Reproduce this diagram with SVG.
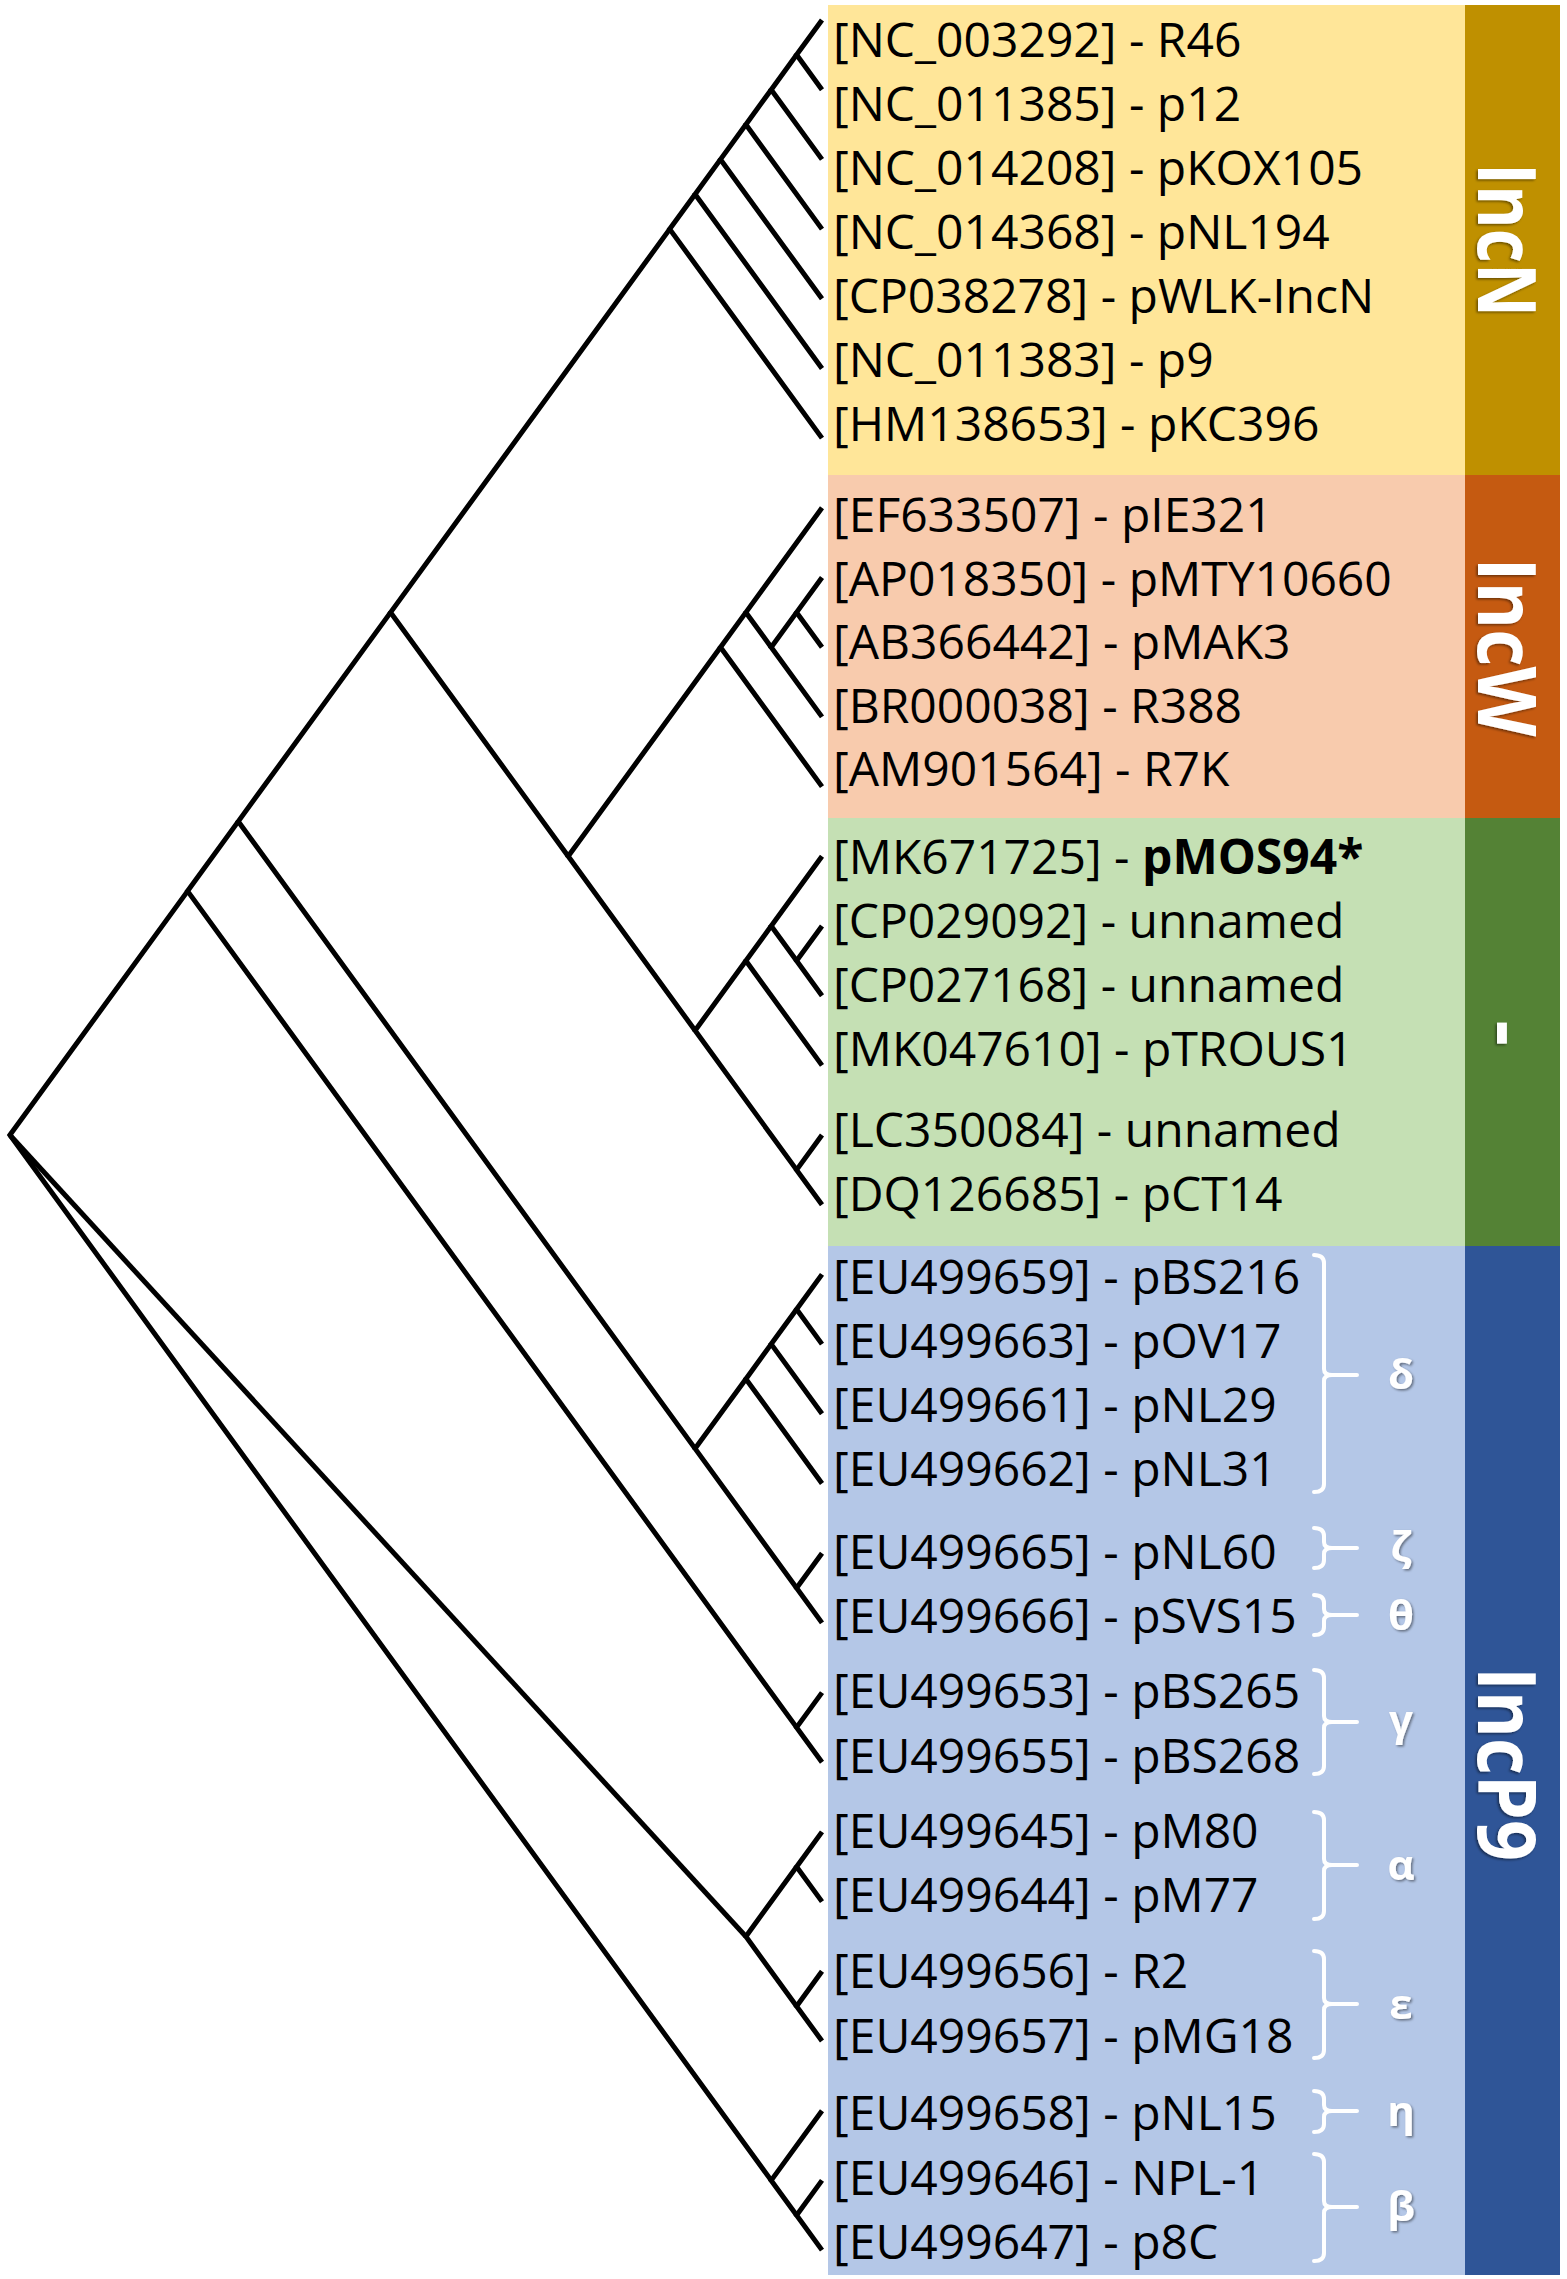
<svg xmlns="http://www.w3.org/2000/svg" width="1567" height="2279" viewBox="0 0 1567 2279">
<defs>
<style>
.lbl{font-family:"Open Sans","Noto Sans",sans-serif;font-size:48px;fill:#000}
.bar{font-family:"Open Sans","Noto Sans",sans-serif;font-size:80px;font-weight:bold;fill:#fff}
.grk{font-family:"Open Sans","Noto Sans",sans-serif;font-size:42px;font-weight:bold;fill:#fff;text-anchor:middle}
.edge{fill:none;stroke:#000;stroke-width:5;stroke-linejoin:miter;stroke-linecap:butt}
.brace{fill:none;stroke:#fff;stroke-width:4;stroke-linecap:round;stroke-linejoin:round}
</style>
<filter id="sh" x="-20%" y="-20%" width="140%" height="140%">
<feDropShadow dx="1.5" dy="1.5" stdDeviation="1.2" flood-color="#000" flood-opacity="0.45"/>
</filter>
</defs>
<rect width="1567" height="2279" fill="#fff"/>

<g id="panel-IncN">
<rect x="828" y="5" width="637" height="470" fill="#FFE699"/>
<rect x="1465" y="5" width="95" height="470" fill="#BF9000"/>
<text class="bar" transform="translate(1478,240) rotate(90)" text-anchor="middle" textLength="154" lengthAdjust="spacingAndGlyphs" filter="url(#sh)">IncN</text>
</g>
<g id="panel-IncW">
<rect x="828" y="475" width="637" height="343" fill="#F8CBAD"/>
<rect x="1465" y="475" width="95" height="343" fill="#C55A11"/>
<text class="bar" transform="translate(1478,647) rotate(90)" text-anchor="middle" textLength="179" lengthAdjust="spacingAndGlyphs" filter="url(#sh)">IncW</text>
</g>
<g id="panel-unassigned">
<rect x="828" y="818" width="637" height="428" fill="#C5E0B4"/>
<rect x="1465" y="818" width="95" height="428" fill="#548235"/>
<text class="bar" transform="translate(1480,1033) rotate(90)" text-anchor="middle" filter="url(#sh)">-</text>
</g>
<g id="panel-IncP9">
<rect x="828" y="1246" width="637" height="1029" fill="#B4C7E7"/>
<rect x="1465" y="1246" width="95" height="1029" fill="#2F5597"/>
<text class="bar" transform="translate(1478,1764) rotate(90)" text-anchor="middle" textLength="194" lengthAdjust="spacingAndGlyphs" filter="url(#sh)">IncP9</text>
</g>

<g id="connectors">
<path class="edge" d="M822,20 L796.6,54.8 L822,89.7"/>
<path class="edge" d="M796.6,54.8 L771.2,89.7 L822,159.4"/>
<path class="edge" d="M771.2,89.7 L745.9,124.5 L822,229.1"/>
<path class="edge" d="M745.9,124.5 L720.5,159.4 L822,298.8"/>
<path class="edge" d="M720.5,159.4 L695.1,194.2 L822,368.5"/>
<path class="edge" d="M695.1,194.2 L669.7,229.1 L822,438.1"/>
<path class="edge" d="M822,577.5 L796.6,612.4 L822,647.2"/>
<path class="edge" d="M796.6,612.4 L771.2,647.2 L822,716.9"/>
<path class="edge" d="M822,507.8 L745.9,612.4 L771.2,647.2"/>
<path class="edge" d="M745.9,612.4 L720.5,647.2 L822,786.6"/>
<path class="edge" d="M822,926 L796.6,960.8 L822,995.7"/>
<path class="edge" d="M822,856.3 L771.2,926 L796.6,960.8"/>
<path class="edge" d="M771.2,926 L745.9,960.8 L822,1065.4"/>
<path class="edge" d="M822,1135 L796.6,1169.9 L822,1204.7"/>
<path class="edge" d="M745.9,960.8 L695.1,1030.5 L796.6,1169.9"/>
<path class="edge" d="M720.5,647.2 L568.2,856.3 L695.1,1030.5"/>
<path class="edge" d="M669.7,229.1 L390.6,612.4 L568.2,856.3"/>
<path class="edge" d="M822,1274.4 L796.6,1309.3 L822,1344.1"/>
<path class="edge" d="M796.6,1309.3 L771.2,1344.1 L822,1413.8"/>
<path class="edge" d="M771.2,1344.1 L745.9,1379 L822,1483.5"/>
<path class="edge" d="M822,1553.2 L796.6,1588 L822,1622.9"/>
<path class="edge" d="M745.9,1379 L695.1,1448.6 L796.6,1588"/>
<path class="edge" d="M390.6,612.4 L238.3,821.4 L695.1,1448.6"/>
<path class="edge" d="M822,1692.6 L796.6,1727.4 L822,1762.3"/>
<path class="edge" d="M238.3,821.4 L187.6,891.1 L796.6,1727.4"/>
<path class="edge" d="M822,1831.9 L796.6,1866.8 L822,1901.6"/>
<path class="edge" d="M822,1971.3 L796.6,2006.2 L822,2041"/>
<path class="edge" d="M796.6,1866.8 L745.9,1936.5 L796.6,2006.2"/>
<path class="edge" d="M822,2180.4 L796.6,2215.2 L822,2250.1"/>
<path class="edge" d="M822,2110.7 L771.2,2180.4 L796.6,2215.2"/>
<path class="edge" d="M187.6,891.1 L9.9,1135 L771.2,2180.4"/>
<path class="edge" d="M9.9,1135 L745.9,1936.5"/>
</g>

<g id="leaves">
<g id="leaf-NC_003292"><text class="lbl" x="833" y="57">[NC_003292] - R46</text></g>
<g id="leaf-NC_011385"><text class="lbl" x="833" y="121">[NC_011385] - p12</text></g>
<g id="leaf-NC_014208"><text class="lbl" x="833" y="185">[NC_014208] - pKOX105</text></g>
<g id="leaf-NC_014368"><text class="lbl" x="833" y="249">[NC_014368] - pNL194</text></g>
<g id="leaf-CP038278"><text class="lbl" x="833" y="313">[CP038278] - pWLK-IncN</text></g>
<g id="leaf-NC_011383"><text class="lbl" x="833" y="377">[NC_011383] - p9</text></g>
<g id="leaf-HM138653"><text class="lbl" x="833" y="441">[HM138653] - pKC396</text></g>
<g id="leaf-EF633507"><text class="lbl" x="833" y="532">[EF633507] - pIE321</text></g>
<g id="leaf-AP018350"><text class="lbl" x="833" y="596">[AP018350] - pMTY10660</text></g>
<g id="leaf-AB366442"><text class="lbl" x="833" y="659">[AB366442] - pMAK3</text></g>
<g id="leaf-BR000038"><text class="lbl" x="833" y="723">[BR000038] - R388</text></g>
<g id="leaf-AM901564"><text class="lbl" x="833" y="786">[AM901564] - R7K</text></g>
<g id="leaf-MK671725"><text class="lbl" x="833" y="874">[MK671725] - <tspan font-weight="bold">pMOS94*</tspan></text></g>
<g id="leaf-CP029092"><text class="lbl" x="833" y="938">[CP029092] - unnamed</text></g>
<g id="leaf-CP027168"><text class="lbl" x="833" y="1002">[CP027168] - unnamed</text></g>
<g id="leaf-MK047610"><text class="lbl" x="833" y="1066">[MK047610] - pTROUS1</text></g>
<g id="leaf-LC350084"><text class="lbl" x="833" y="1147">[LC350084] - unnamed</text></g>
<g id="leaf-DQ126685"><text class="lbl" x="833" y="1211">[DQ126685] - pCT14</text></g>
<g id="leaf-EU499659"><text class="lbl" x="833" y="1294">[EU499659] - pBS216</text></g>
<g id="leaf-EU499663"><text class="lbl" x="833" y="1358">[EU499663] - pOV17</text></g>
<g id="leaf-EU499661"><text class="lbl" x="833" y="1422">[EU499661] - pNL29</text></g>
<g id="leaf-EU499662"><text class="lbl" x="833" y="1486">[EU499662] - pNL31</text></g>
<g id="leaf-EU499665"><text class="lbl" x="833" y="1569">[EU499665] - pNL60</text></g>
<g id="leaf-EU499666"><text class="lbl" x="833" y="1633">[EU499666] - pSVS15</text></g>
<g id="leaf-EU499653"><text class="lbl" x="833" y="1708">[EU499653] - pBS265</text></g>
<g id="leaf-EU499655"><text class="lbl" x="833" y="1773">[EU499655] - pBS268</text></g>
<g id="leaf-EU499645"><text class="lbl" x="833" y="1848">[EU499645] - pM80</text></g>
<g id="leaf-EU499644"><text class="lbl" x="833" y="1912">[EU499644] - pM77</text></g>
<g id="leaf-EU499656"><text class="lbl" x="833" y="1988">[EU499656] - R2</text></g>
<g id="leaf-EU499657"><text class="lbl" x="833" y="2053">[EU499657] - pMG18</text></g>
<g id="leaf-EU499658"><text class="lbl" x="833" y="2130">[EU499658] - pNL15</text></g>
<g id="leaf-EU499646"><text class="lbl" x="833" y="2195">[EU499646] - NPL-1</text></g>
<g id="leaf-EU499647"><text class="lbl" x="833" y="2259">[EU499647] - p8C</text></g>
</g>

<g id="subgroups">
<g id="sub-delta"><path class="brace" d="M1314,1255 Q1324,1255 1324,1263 L1324,1369 Q1324,1375 1332,1375 L1357,1375 M1332,1375 Q1324,1375 1324,1381 L1324,1484 Q1324,1492 1314,1492"/><text class="grk" x="1401" y="1389" filter="url(#sh)">δ</text></g>
<g id="sub-zeta"><path class="brace" d="M1314,1528 Q1324,1528 1324,1536 L1324,1542 Q1324,1548 1332,1548 L1357,1548 M1332,1548 Q1324,1548 1324,1554 L1324,1560 Q1324,1568 1314,1568"/><text class="grk" x="1401" y="1561" filter="url(#sh)">ζ</text></g>
<g id="sub-theta"><path class="brace" d="M1314,1595 Q1324,1595 1324,1603 L1324,1609 Q1324,1615 1332,1615 L1357,1615 M1332,1615 Q1324,1615 1324,1621 L1324,1627 Q1324,1635 1314,1635"/><text class="grk" x="1401" y="1630" filter="url(#sh)">θ</text></g>
<g id="sub-gamma"><path class="brace" d="M1314,1670 Q1324,1670 1324,1678 L1324,1716 Q1324,1722 1332,1722 L1357,1722 M1332,1722 Q1324,1722 1324,1728 L1324,1766 Q1324,1774 1314,1774"/><text class="grk" x="1401" y="1735" filter="url(#sh)">γ</text></g>
<g id="sub-alpha"><path class="brace" d="M1314,1812 Q1324,1812 1324,1820 L1324,1859 Q1324,1865 1332,1865 L1357,1865 M1332,1865 Q1324,1865 1324,1871 L1324,1911 Q1324,1919 1314,1919"/><text class="grk" x="1401" y="1880" filter="url(#sh)">α</text></g>
<g id="sub-epsilon"><path class="brace" d="M1314,1951 Q1324,1951 1324,1959 L1324,1998 Q1324,2004 1332,2004 L1357,2004 M1332,2004 Q1324,2004 1324,2010 L1324,2050 Q1324,2058 1314,2058"/><text class="grk" x="1401" y="2019" filter="url(#sh)">ε</text></g>
<g id="sub-eta"><path class="brace" d="M1314,2091 Q1324,2091 1324,2099 L1324,2105 Q1324,2111 1332,2111 L1357,2111 M1332,2111 Q1324,2111 1324,2117 L1324,2124 Q1324,2132 1314,2132"/><text class="grk" x="1401" y="2126" filter="url(#sh)">η</text></g>
<g id="sub-beta"><path class="brace" d="M1314,2154 Q1324,2154 1324,2162 L1324,2201 Q1324,2207 1332,2207 L1357,2207 M1332,2207 Q1324,2207 1324,2213 L1324,2253 Q1324,2261 1314,2261"/><text class="grk" x="1401" y="2221" filter="url(#sh)">β</text></g>
</g>
</svg>
